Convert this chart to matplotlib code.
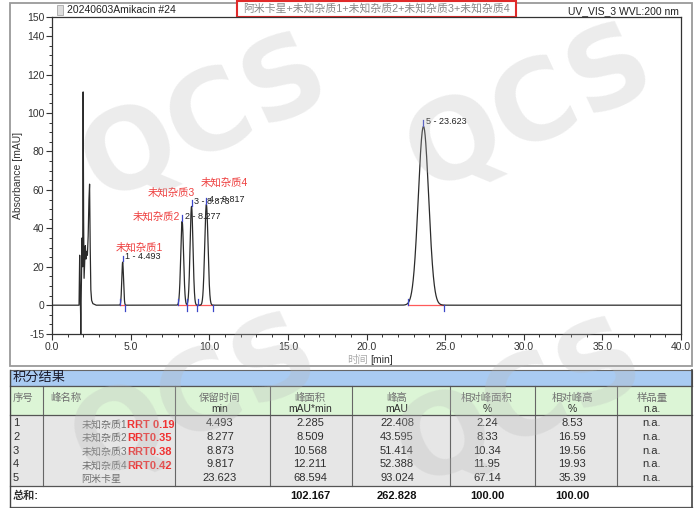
import numpy as np
import matplotlib
matplotlib.use('Agg')
import matplotlib.pyplot as plt
from matplotlib.patches import Rectangle
from matplotlib.ticker import MultipleLocator, FixedLocator

plt.rcParams['font.family'] = ['Liberation Sans', 'Noto Sans CJK SC', 'DejaVu Sans']

# ---------------- data ----------------
# solvent-front region of the trace
front_t = [0.0, 1.72, 1.76, 1.79, 1.82, 1.83, 1.84, 1.87, 1.91, 1.95, 1.98, 2.01, 2.04,
           2.08, 2.12, 2.16, 2.20, 2.25, 2.30, 2.35, 2.39, 2.43, 2.47, 2.52, 2.60, 2.80]
front_v = [0.0, 0.0, 26.0, 8.0, -5.0, -20.0, -5.0, 12.0, 35.0, 20.0, 111.0, 45.0, 14.0,
           22.0, 31.0, 24.0, 28.0, 26.0, 36.0, 55.0, 63.0, 30.0, 8.0, 2.5, 0.8, 0.0]

peak_no = [1, 2, 3, 4, 5]
peak_names = ['未知杂质1', '未知杂质2', '未知杂质3', '未知杂质4', '阿米卡星']
rrt_labels = ['RRT 0.19', 'RRT0.35', 'RRT0.38', 'RRT0.42', '']
ret_time = [4.493, 8.277, 8.873, 9.817, 23.623]
area = [2.285, 8.509, 10.568, 12.211, 68.594]
height = [22.408, 43.595, 51.414, 52.388, 93.024]
rel_area = [2.24, 8.33, 10.34, 11.95, 67.14]
rel_height = [8.53, 16.59, 19.56, 19.93, 35.39]
amount = ['n.a.', 'n.a.', 'n.a.', 'n.a.', 'n.a.']
total_area = 102.167
total_height = 262.828
total_rel_area = 100.00
total_rel_height = 100.00
peak_sigma = [0.055, 0.09, 0.092, 0.105, 0.33]   # peak widths
peak_start = [4.32, 8.04, 8.57, 9.26, 22.63]
peak_end = [4.66, 8.57, 9.21, 10.23, 24.96]

x_ticks = [0.0, 5.0, 10.0, 15.0, 20.0, 25.0, 30.0, 35.0, 40.0]
y_ticks = [-15, 0, 20, 40, 60, 80, 100, 120, 140, 150]

# ---------------- figure ----------------
W, H = 700, 508
fig = plt.figure(figsize=(7, 5.08), dpi=100)
ax0 = fig.add_axes([0, 0, 1, 1])
ax0.set_xlim(0, W); ax0.set_ylim(H, 0); ax0.axis('off'); ax0.set_zorder(0)


def px_axes(l, t, r, b):
    return [l / W, 1 - b / H, (r - l) / W, (b - t) / H]


ax = fig.add_axes(px_axes(52, 17, 681, 334))
ax.set_zorder(2)

# trace
t_main = np.linspace(front_t[-1], 40, 8000)
y_main = np.zeros_like(t_main)
for rt, h, s in zip(ret_time, height, peak_sigma):
    y_main += h * np.exp(-0.5 * ((t_main - rt) / s) ** 2)
t_all = np.concatenate([front_t, t_main[1:]])
y_all = np.concatenate([front_v, y_main[1:]])
ax.plot(t_all, y_all, color='#2b2b2b', lw=0.9, zorder=3)

blue = '#3b46c8'
red = '#ee4040'
for s, e, rt, h in zip(peak_start, peak_end, ret_time, height):
    ax.plot([s, e], [0, 0], color='#ff5a5a', lw=0.9, zorder=2)
    ax.plot([s, s], [0, 3.2], color=blue, lw=0.9, zorder=4)
    ax.plot([e, e], [0, -3.2], color=blue, lw=0.9, zorder=4)
    ax.plot([rt, rt], [h + 0.4, h + 3.4], color=blue, lw=0.9, zorder=4)

lab_fs = 6.5
for n, rt, h in zip(peak_no, ret_time, height):
    ax.text(rt + 0.15, h + 2.8, f'{n} - {rt:.3f}', fontsize=lab_fs, color='#222222',
            ha='left', va='center', zorder=5)

red_pos = [(4.08, 30.1, 'left'), (8.17, 46.2, 'right'), (9.12, 58.7, 'right'), (9.44, 63.9, 'left')]
for (x, y, ha), name in zip(red_pos, peak_names[:4]):
    ax.text(x, y, name, fontsize=7.5, color=red, ha=ha, va='center', zorder=5)

ax.set_xlim(0, 40)
ax.set_ylim(-15, 150)
ax.xaxis.set_major_locator(FixedLocator(x_ticks))
ax.set_xticklabels([f'{v:.1f}' for v in x_ticks])
ax.xaxis.set_minor_locator(MultipleLocator(1))
ax.yaxis.set_major_locator(FixedLocator(y_ticks))
ax.set_yticklabels([str(v) for v in y_ticks])
ax.yaxis.set_minor_locator(MultipleLocator(5))
ax.tick_params(which='major', direction='out', length=4, width=0.8, labelsize=7.5,
               colors='#333333', pad=1.5)
ax.tick_params(which='minor', direction='out', length=2.5, width=0.7, colors='#333333')
for sp in ax.spines.values():
    sp.set_color('#333333'); sp.set_linewidth(0.9)
ax.set_ylabel('Absorbance [mAU]', fontsize=7.5, color='#333333', labelpad=3)

# x label (two colours)
ax0.text(368, 360, '时间', fontsize=7.5, color='#aaaaaa', ha='right', va='center')
ax0.text(370, 360, '[min]', fontsize=7.5, color='#333333', ha='left', va='center')

# header texts
ax0.add_patch(Rectangle((57, 5), 6, 10, facecolor='#dddddd', edgecolor='#999999', lw=0.5))
ax0.text(67, 10, '20240603Amikacin #24', fontsize=7.5, color='#222222', ha='left', va='center')
ax0.text(679, 11, 'UV_VIS_3 WVL:200 nm', fontsize=7.5, color='#222222', ha='right', va='center')
ax0.add_patch(Rectangle((237, 0.8), 279, 16, facecolor='white', edgecolor='#e02a2a', lw=1.5, zorder=3))
ax0.text(376.5, 8.5, '阿米卡星+未知杂质1+未知杂质2+未知杂质3+未知杂质4', fontsize=7.8,
         color='#888888', ha='center', va='center', zorder=4)

# outer frame of chart
ax0.add_patch(Rectangle((10, 3), 682, 363, facecolor='none', edgecolor='#9a9a9a', lw=1.3))

# ---------------- table ----------------
L, R = 10, 692
ax0.add_patch(Rectangle((L, 370), R - L, 15.5, facecolor='#a9cbf2', edgecolor='#666666', lw=0.8))
ax0.text(13, 378, '积分结果', fontsize=9.5, color='#1a1a2a', ha='left', va='center')
ax0.add_patch(Rectangle((L, 385.5), R - L, 29.5, facecolor='#dcf5d6', edgecolor='none'))
ax0.add_patch(Rectangle((L, 415), R - L, 71, facecolor='#e6e6e6', edgecolor='none'))
ax0.add_patch(Rectangle((L, 486), R - L, 20.5, facecolor='white', edgecolor='none'))

col_borders = [43, 175, 270, 352, 450, 535, 617]
for xb in col_borders:
    ax0.plot([xb, xb], [385.5, 486], color='#666666', lw=0.8)
for yb in [385.5, 415, 486, 506.5]:
    ax0.plot([L, R], [yb, yb], color='#555555', lw=0.9)
ax0.plot([L, L], [370, 506.5], color='#444444', lw=1.0)
ax0.plot([R, R], [370, 506.5], color='#444444', lw=1.2)

hdr_col = '#707070'
val_col = '#303030'
hdr_fs = 7.5
ax0.text(13, 398, '序号', fontsize=hdr_fs, color=hdr_col, ha='left', va='center')
ax0.text(50, 398, '峰名称', fontsize=hdr_fs, color=hdr_col, ha='left', va='center')
col_x = [220, 310, 397, 487, 572, 652]
hdr_top = ['保留时间', '峰面积', '峰高', '相对峰面积', '相对峰高', '样品量']
hdr_bot = ['min', 'mAU*min', 'mAU', '%', '%', 'n.a.']
for x, a, b in zip(col_x, hdr_top, hdr_bot):
    ax0.text(x, 398, a, fontsize=hdr_fs, color=hdr_col, ha='center', va='center')
    ax0.text(x, 408.5, b, fontsize=hdr_fs, color=val_col, ha='center', va='center')

row_y = [423.3, 436.8, 450.5, 464.3, 478.3]
val_fs = 8
renderer = fig.canvas.get_renderer()
for i, y in enumerate(row_y):
    ax0.text(13, y, str(peak_no[i]), fontsize=val_fs, color=val_col, ha='left', va='center')
    t_name = ax0.text(81.5, y + 4, peak_names[i], fontsize=7.2, color='#707070',
                      ha='left', va='baseline')
    if rrt_labels[i]:
        bb = t_name.get_window_extent(renderer=renderer)
        ax0.text(bb.x1 + 0.3, y + 4.3, rrt_labels[i], fontsize=8, color='#f03232',
                 fontweight='bold', ha='left', va='baseline')
    vals = [f'{ret_time[i]:.3f}', f'{area[i]:.3f}', f'{height[i]:.3f}',
            f'{rel_area[i]:.2f}', f'{rel_height[i]:.2f}', amount[i]]
    for x, v in zip(col_x, vals):
        ax0.text(x, y, v, fontsize=val_fs, color=val_col, ha='center', va='center')

ax0.text(13, 496, '总和:', fontsize=val_fs, color='#333333', fontweight='bold',
         ha='left', va='center')
tot = [None, f'{total_area:.3f}', f'{total_height:.3f}', f'{total_rel_area:.2f}',
       f'{total_rel_height:.2f}', None]
for x, v in zip(col_x, tot):
    if v:
        ax0.text(x, 496, v, fontsize=val_fs, color='#111111', fontweight='bold',
                 ha='center', va='center')

# ---------------- watermark ----------------
axw = fig.add_axes([0, 0, 1, 1])
axw.set_xlim(0, W); axw.set_ylim(H, 0); axw.axis('off'); axw.set_zorder(10)
axw.patch.set_alpha(0)
for (x, y) in [(205, 120), (530, 110), (195, 400), (520, 405)]:
    axw.text(x, y, 'QCS', fontsize=80, fontweight='bold', color='#b8b8b8', alpha=0.27,
             rotation=25, ha='center', va='center', family='DejaVu Sans')

fig.savefig('out.png', dpi=100)
